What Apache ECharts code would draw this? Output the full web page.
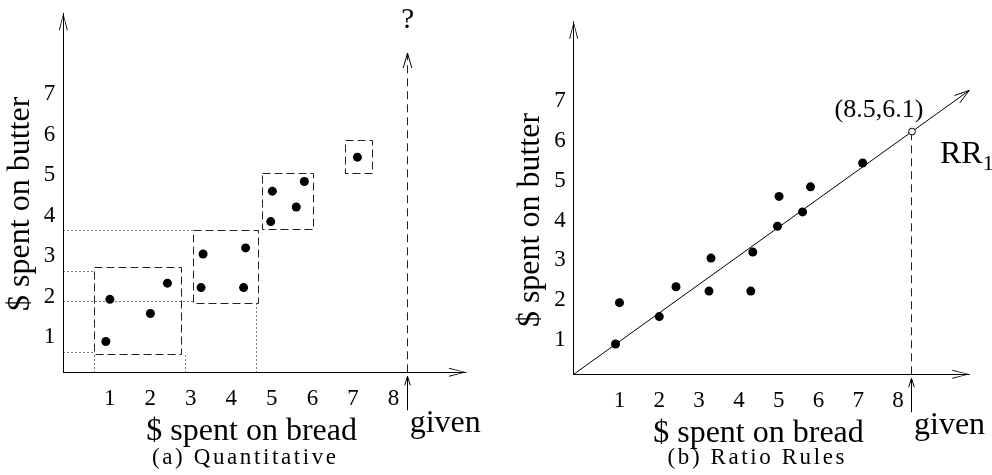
<!DOCTYPE html>
<html>
<head>
<meta charset="utf-8">
<script src="https://cdn.jsdelivr.net/npm/echarts@6/dist/echarts.min.js"></script>
<style>html,body{margin:0;padding:0;background:#fff}#c{width:992px;height:475px}</style>
</head>
<body>
<div id="c"></div>
<script>
// ---- data ----
const breadSpent  = [1.05, 1.15, 2.15, 2.57, 3.45, 3.40, 4.50, 4.45, 5.12, 5.16, 5.75, 5.95, 7.26];
const butterSpent = [0.76, 1.80, 1.45, 2.20, 2.92, 2.09, 3.07, 2.09, 3.72, 4.47, 4.08, 4.71, 5.31];
const xTickLabels = ['1', '2', '3', '4', '5', '6', '7', '8'];
const yTickLabels = ['1', '2', '3', '4', '5', '6', '7'];
const bucketBread  = [[0.76, 2.92], [3.21, 4.81], [4.91, 6.17], [6.97, 7.62]];
const bucketButter = [[0.45, 2.59], [1.69, 3.51], [3.53, 4.91], [4.91, 5.71]];
const guideFrom = [[0, 2.48], [0, 1.74], [0, 0.50], [0, 3.50], [0.76, 0], [3.01, 0], [4.78, 0]];
const guideTo   = [[0.76, 2.48], [3.21, 1.74], [0.76, 0.50], [3.21, 3.50], [0.76, 0.45], [3.01, 0.45], [4.78, 1.69]];
const givenBread = 8.5;
const predictedButter = 6.1;
const axisMax = [9.94, 8.86];
const queryTop = 7.88;
const axisNames = ['$ spent on bread', '$ spent on butter'];
const panelCaptions = ['(a) Quantitative', '(b) Ratio Rules'];
const unknownMark = '?';
const givenText = 'given';
const ruleName = 'RR';
const ruleIndex = '1';

// ---- styling ----
const SERIF = '"Liberation Serif", "Times New Roman", serif';
const INK = '#000';
const DASH_INK = '#222';
const ARROW = 'path://M4.5,0L9,17L8,17L4.5,2L1,17L0,17Z';

const points = breadSpent.map((x, i) => [x, butterSpent[i]]);
const crisp = v => Math.round(v - 0.5) + 0.5;

function axisLine() {
  return { show: true, onZero: false, symbol: ['none', ARROW], symbolSize: [9, 17], symbolOffset: [0, -8.5],
           lineStyle: { color: INK, width: 1 } };
}
function makeXAxis(g, nameGap) {
  return {
    type: 'value', gridIndex: g, min: 0, max: axisMax[0],
    name: axisNames[0], nameLocation: 'middle', nameGap: nameGap,
    nameTextStyle: { fontFamily: SERIF, fontSize: 32, color: INK, padding: [0, 26, 0, 0] },
    axisLine: axisLine(), axisTick: { show: false }, splitLine: { show: false },
    axisLabel: { customValues: xTickLabels.map(Number), fontFamily: SERIF, fontSize: 23, color: INK,
                 margin: 15, padding: [0, 0, 0, 12] }
  };
}
function makeYAxis(g, nameGap, shift) {
  return {
    type: 'value', gridIndex: g, min: 0, max: axisMax[1],
    name: axisNames[1], nameLocation: 'middle', nameGap: nameGap, nameRotate: 90,
    nameTextStyle: { fontFamily: SERIF, fontSize: 32, color: INK, padding: [0, shift, 0, 0] },
    axisLine: axisLine(), axisTick: { show: false }, splitLine: { show: false },
    axisLabel: { customValues: yTickLabels.map(Number), fontFamily: SERIF, fontSize: 23, color: INK,
                 margin: 8, verticalAlign: 'top', lineHeight: 11 }
  };
}

function chevron(tip, dir, len, half) {
  const nx = -dir[1], ny = dir[0];
  const bx = tip[0] - dir[0] * len, by = tip[1] - dir[1] * len;
  return { type: 'polyline',
           shape: { points: [[bx + nx * half, by + ny * half], [tip[0], tip[1]], [bx - nx * half, by - ny * half]] },
           style: { stroke: INK, fill: 'none', lineWidth: 1 } };
}
function givenMarker(base) {
  const x = crisp(base[0]);
  return [
    { type: 'line', shape: { x1: x, y1: base[1] + 38, x2: x, y2: base[1] + 4 },
      style: { stroke: INK, lineWidth: 1 } },
    chevron([x, base[1] + 4], [0, -1], 9, 2.8),
    { type: 'text', x: base[0] + 2, y: base[1] + 51,
      style: { text: givenText, fontFamily: SERIF, fontSize: 32, fill: INK, align: 'left', verticalAlign: 'middle' } }
  ];
}

const chart = echarts.init(document.getElementById('c'), null, { renderer: 'canvas' });
chart.setOption({
  animation: false,
  backgroundColor: '#fff',
  textStyle: { fontFamily: SERIF },
  title: panelCaptions.map((cap, i) => ({
    text: cap.split('').map(ch => '{c|' + ch + '}').join(''),
    left: [244, 756][i], top: 446, padding: 0,
    textAlign: 'center', textVerticalAlign: 'top',
    textStyle: { fontWeight: 'normal', fontSize: 23, fontFamily: SERIF, color: INK,
      rich: { c: { fontFamily: SERIF, fontSize: 23, fontWeight: 'normal', color: INK, padding: [0, 1.3] } } }
  })),
  grid: [
    { left: 63.3, top: 13.3, width: 402.7, height: 359 },
    { left: 573.7, top: 21.7, width: 395.6, height: 352.6 }
  ],
  xAxis: [makeXAxis(0, 31), makeXAxis(1, 28)],
  yAxis: [makeYAxis(0, 27, 22), makeYAxis(1, 27, 44)],
  series: [
    { type: 'custom', xAxisIndex: 0, yAxisIndex: 0, silent: true,
      data: bucketBread.map((bx, i) => [bx[0], bx[1], bucketButter[i][0], bucketButter[i][1]]),
      renderItem: (params, api) => {
        const a = api.coord([api.value(0), api.value(2)]);
        const b = api.coord([api.value(1), api.value(3)]);
        const x0 = crisp(a[0]), x1 = crisp(b[0]), y0 = crisp(a[1]), y1 = crisp(b[1]);
        return { type: 'rect', shape: { x: x0, y: y1, width: x1 - x0, height: y0 - y1 },
                 style: { fill: 'none', stroke: DASH_INK, lineWidth: 1, lineDash: [8, 4] } };
      } },
    { type: 'custom', xAxisIndex: 0, yAxisIndex: 0, silent: true,
      data: guideFrom.map((f, i) => [f[0], f[1], guideTo[i][0], guideTo[i][1]]),
      renderItem: (params, api) => {
        const a = api.coord([api.value(0), api.value(1)]);
        const b = api.coord([api.value(2), api.value(3)]);
        return { type: 'line', shape: { x1: crisp(a[0]), y1: crisp(a[1]), x2: crisp(b[0]), y2: crisp(b[1]) },
                 style: { stroke: INK, lineWidth: 1, lineDash: [1, 3] } };
      } },
    { type: 'scatter', xAxisIndex: 0, yAxisIndex: 0, silent: true, data: points,
      symbolSize: 9, itemStyle: { color: INK, opacity: 1 } },
    { type: 'custom', xAxisIndex: 0, yAxisIndex: 0, silent: true, data: [[givenBread, queryTop]],
      renderItem: (params, api) => {
        const base = api.coord([api.value(0), 0]);
        const top = api.coord([api.value(0), api.value(1)]);
        const x = crisp(base[0]);
        return { type: 'group', children: [
          { type: 'line', shape: { x1: x, y1: base[1], x2: x, y2: top[1] },
            style: { stroke: DASH_INK, lineWidth: 1, lineDash: [8, 5] } },
          chevron([x, top[1]], [0, -1], 15, 4.3),
          { type: 'text', x: top[0], y: top[1] - 33,
            style: { text: unknownMark, fontFamily: SERIF, fontSize: 29, fill: INK, align: 'center', verticalAlign: 'middle' } }
        ].concat(givenMarker(base)) };
      } },
    { type: 'custom', xAxisIndex: 1, yAxisIndex: 1, silent: true, data: [[givenBread, predictedButter]],
      renderItem: (params, api) => {
        const gx = api.value(0), gy = api.value(1);
        const o = api.coord([0, 0]);
        const e = api.coord([axisMax[0], axisMax[0] * gy / gx]);
        const p = api.coord([gx, gy]);
        const dx = e[0] - o[0], dy = e[1] - o[1], L = Math.hypot(dx, dy);
        return { type: 'group', children: [
          { type: 'line', shape: { x1: o[0], y1: o[1], x2: e[0], y2: e[1] }, style: { stroke: INK, lineWidth: 1 } },
          chevron(e, [dx / L, dy / L], 15, 4.5),
          { type: 'text', x: p[0] + 28, y: p[1] + 23,
            style: { text: '{m|' + ruleName + '}{s|' + ruleIndex + '}', align: 'left', verticalAlign: 'middle',
              rich: { m: { fontFamily: SERIF, fontSize: 32, fill: INK },
                      s: { fontFamily: SERIF, fontSize: 22, fill: INK, padding: [20, 0, 0, 0] } } } }
        ] };
      } },
    { type: 'scatter', xAxisIndex: 1, yAxisIndex: 1, silent: true, data: points,
      symbolSize: 9, itemStyle: { color: INK, opacity: 1 } },
    { type: 'custom', xAxisIndex: 1, yAxisIndex: 1, silent: true, data: [[givenBread, predictedButter]],
      renderItem: (params, api) => {
        const gx = api.value(0), gy = api.value(1);
        const base = api.coord([gx, 0]);
        const p = api.coord([gx, gy]);
        const x = crisp(base[0]);
        return { type: 'group', children: [
          { type: 'line', shape: { x1: x, y1: base[1], x2: x, y2: p[1] + 3.5 },
            style: { stroke: DASH_INK, lineWidth: 1, lineDash: [8, 5] } },
          { type: 'circle', shape: { cx: p[0], cy: p[1], r: 3.4 }, style: { fill: '#fff', stroke: INK, lineWidth: 1 } },
          { type: 'text', x: p[0] - 33, y: p[1] - 21,
            style: { text: '(' + gx + ',' + gy + ')', fontFamily: SERIF, fontSize: 26, fill: INK,
                     align: 'center', verticalAlign: 'middle' } }
        ].concat(givenMarker(base)) };
      } }
  ]
});
</script>
</body>
</html>
